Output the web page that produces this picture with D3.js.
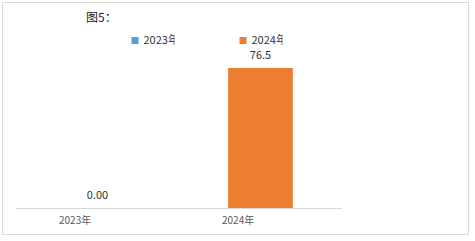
<!DOCTYPE html>
<html>
<head>
<meta charset="utf-8">
<script src="https://cdn.jsdelivr.net/npm/d3@7"></script>
<style>
  body { margin: 0; background: #fff; }
  text { font-family: "Noto Sans CJK SC", "Open Sans", sans-serif; }
</style>
</head>
<body>
<svg></svg>
<script>
var width = 475;
var height = 241;

var categories = ['2023年', '2024年'];
var values = [0, 76.5];
var labels = ['0.00', '76.5'];
var seriesNames = ['2023年', '2024年'];
var colors = ['#5B9BD5', '#ED7D31'];

var svg = d3.select('svg')
			.attr('width', width)
			.attr('height', height);

// outer frame
svg.append('rect')
	.attr('x', 2.5).attr('y', 2.5)
	.attr('width', 466).attr('height', 232)
	.attr('fill', '#fff')
	.attr('stroke', '#d9d9d9');

svg.append('text')
	.attr('x', 86).attr('y', 22)
	.attr('font-size', 12)
	.attr('font-family', '"DejaVu Serif", serif')
	.attr('fill', '#222')
	.text('图5：');

var xScale = d3.scaleBand()
			   .domain(categories)
			   .range([16, 342])
			   .padding(0);
var yScale = d3.scaleLinear()
			   .domain([0, 76.5])
			   .range([208, 68]);

var barWidth = xScale.bandwidth() * 0.397;

svg.selectAll('.bar')
	.data(values)
	.enter()
	.append('rect')
	  .classed('bar', true)
	  .attr('x', (d, i) => xScale(categories[i]) + xScale.bandwidth() / 2 - barWidth / 2)
	  .attr('y', d => yScale(d))
	  .attr('width', barWidth)
	  .attr('height', d => yScale(0) - yScale(d))
	  .attr('fill', (d, i) => colors[i]);

svg.selectAll('.value-label')
	.data(values)
	.enter()
	.append('text')
	  .classed('value-label', true)
	  .attr('text-anchor', 'middle')
	  .attr('x', (d, i) => xScale(categories[i]) + xScale.bandwidth() / 2)
	  .attr('y', d => yScale(d) - 9)
	  .attr('font-size', 11)
	  .attr('fill', '#333')
	  .text((d, i) => labels[i]);

// axis line
svg.append('line')
	.attr('x1', 16).attr('x2', 342)
	.attr('y1', yScale(0) + 0.5).attr('y2', yScale(0) + 0.5)
	.attr('stroke', '#d9d9d9');

svg.selectAll('.cat-label')
	.data(categories)
	.enter()
	.append('text')
	  .classed('cat-label', true)
	  .attr('x', d => xScale(d) + 43)
	  .attr('y', 224)
	  .attr('font-size', 10)
	  .attr('fill', '#595959')
	  .text(d => d);

// legend (text is cut off on the right like in the original)
var legendX = [131.5, 239.5];
svg.append('clipPath').attr('id', 'lclip')
	.append('rect').attr('x', 0).attr('y', 0).attr('width', 31).attr('height', 20);

var legend = svg.selectAll('.legend')
	.data(seriesNames)
	.enter()
	.append('g')
	  .classed('legend', true)
	  .attr('transform', (d, i) => `translate(${legendX[i]}, 37)`);
legend.append('rect')
	.attr('width', 7).attr('height', 7)
	.attr('fill', (d, i) => colors[i]);
legend.append('g')
	.attr('transform', 'translate(12, -4)')
	.attr('clip-path', 'url(#lclip)')
	.append('text')
	  .attr('y', 11)
	  .attr('font-size', 11)
	  .attr('fill', '#333')
	  .text(d => d);
</script>
</body>
</html>
